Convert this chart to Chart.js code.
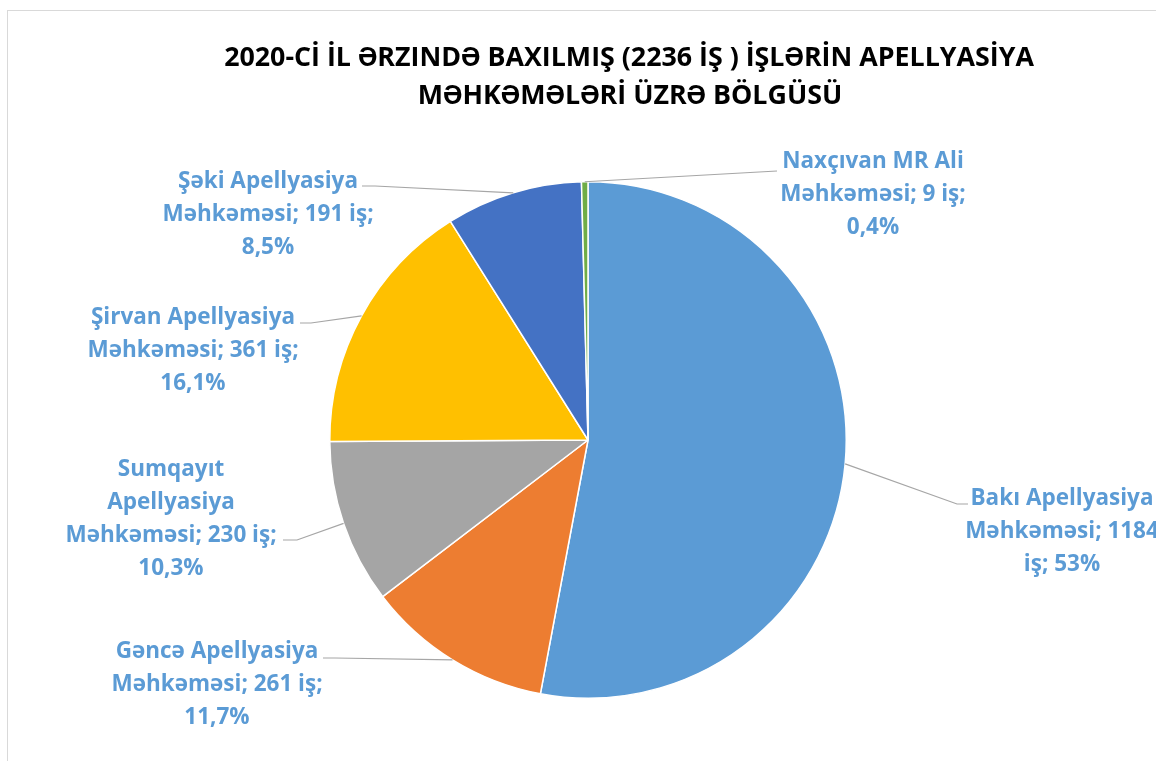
<!DOCTYPE html>
<html>
<head>
<meta charset="utf-8">
<script src="https://cdn.jsdelivr.net/npm/chart.js@4.4.1/dist/chart.umd.min.js"></script>
<style>
  html, body { margin:0; padding:0; background:#fff; }
  #wrap { position:relative; width:1156px; height:761px; overflow:hidden; }
  #frame { position:absolute; left:7px; top:10px; width:1200px; height:800px; border:1px solid #d9d9d9; box-sizing:border-box; }
  canvas { position:absolute; left:0; top:0; }
</style>
</head>
<body>
<div id="wrap">
  <div id="frame"></div>
  <canvas id="c" width="1156" height="761"></canvas>
</div>
<script>
// ---- data ----
const titleLines = ["2020-Cİ İL ƏRZINDƏ BAXILMIŞ (2236 İŞ ) İŞLƏRİN APELLYASİYA", "MƏHKƏMƏLƏRİ ÜZRƏ BÖLGÜSÜ"];
const courts = ["Bakı Apellyasiya Məhkəməsi", "Gəncə Apellyasiya Məhkəməsi", "Sumqayıt Apellyasiya Məhkəməsi", "Şirvan Apellyasiya Məhkəməsi", "Şəki Apellyasiya Məhkəməsi", "Naxçıvan MR Ali Məhkəməsi"];
const cases = [1184, 261, 230, 361, 191, 9];
const percentLabels = ["53%", "11,7%", "10,3%", "16,1%", "8,5%", "0,4%"];
const labelLines = [
  ["Bakı Apellyasiya", "Məhkəməsi; 1184", "iş; 53%"],
  ["Gəncə Apellyasiya", "Məhkəməsi; 261 iş;", "11,7%"],
  ["Sumqayıt", "Apellyasiya", "Məhkəməsi; 230 iş;", "10,3%"],
  ["Şirvan Apellyasiya", "Məhkəməsi; 361 iş;", "16,1%"],
  ["Şəki Apellyasiya", "Məhkəməsi; 191 iş;", "8,5%"],
  ["Naxçıvan MR Ali", "Məhkəməsi; 9 iş;", "0,4%"]
];
const sliceColors = ["#5B9BD5", "#ED7D31", "#A5A5A5", "#FFC000", "#4472C4", "#70AD47"];

// ---- label layout (positions of text blocks and leader elbows) ----
const labelLayout = [
  { cx: 1062, y0: 499, elbow: [957, 504], end: [968, 504] },
  { cx: 217,  y0: 652, elbow: [335, 658], end: [323, 658] },
  { cx: 171,  y0: 470, elbow: [297, 540], end: [283, 540] },
  { cx: 193,  y0: 318, elbow: [311, 323], end: [300, 323] },
  { cx: 268,  y0: 182, elbow: [375, 186], end: [362, 186] },
  { cx: 873,  y0: 162, elbow: [777, 171], end: [777, 171] }
];
const lineGap = 33;
const labelFont = 'bold 22.5px "Open Sans", sans-serif';
const titleFont = 'bold 26.8px "Open Sans", sans-serif';

const overlay = {
  id: 'overlay',
  afterDraw(chart) {
    const ctx = chart.ctx;
    ctx.save();
    // title
    ctx.fillStyle = '#000';
    ctx.font = titleFont;
    ctx.textAlign = 'center';
    ctx.textBaseline = 'middle';
    ctx.fillText(titleLines[0], 629, 58);
    ctx.fillText(titleLines[1], 630, 96);
    // leader lines + labels
    const meta = chart.getDatasetMeta(0);
    meta.data.forEach((arc, i) => {
      const p = arc.getProps(['x','y','startAngle','endAngle','outerRadius'], true);
      const a = (p.startAngle + p.endAngle) / 2;
      const sx = p.x + Math.cos(a) * p.outerRadius;
      const sy = p.y + Math.sin(a) * p.outerRadius;
      const L = labelLayout[i];
      ctx.strokeStyle = '#a6a6a6';
      ctx.lineWidth = 1.2;
      ctx.beginPath();
      ctx.moveTo(sx, sy);
      ctx.lineTo(L.elbow[0], L.elbow[1]);
      ctx.lineTo(L.end[0], L.end[1]);
      ctx.stroke();
      ctx.fillStyle = '#5B9BD5';
      ctx.font = labelFont;
      ctx.textAlign = 'center';
      ctx.textBaseline = 'middle';
      labelLines[i].forEach((t, k) => ctx.fillText(t, L.cx, L.y0 + k * lineGap));
    });
    ctx.restore();
  }
};

new Chart(document.getElementById('c'), {
  type: 'pie',
  data: {
    labels: courts,
    datasets: [{
      data: cases,
      backgroundColor: sliceColors,
      borderColor: '#ffffff',
      borderWidth: 1.5
    }]
  },
  options: {
    responsive: false,
    animation: false,
    layout: { padding: { top: 181, bottom: 62, left: 200, right: 180 } },
    plugins: { legend: { display: false }, title: { display: false }, tooltip: { enabled: false } }
  },
  plugins: [overlay]
});
</script>
</body>
</html>
